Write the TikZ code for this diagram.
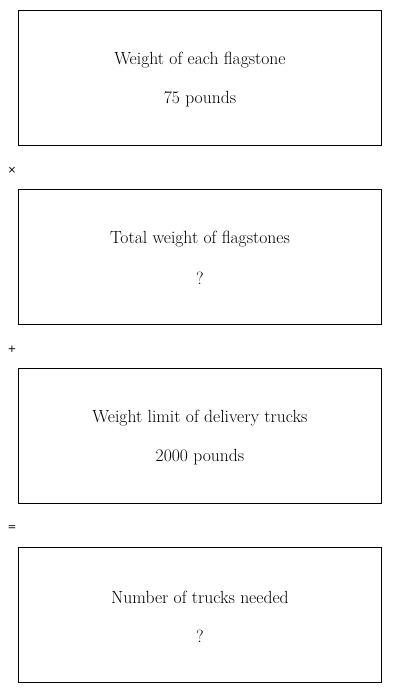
\documentclass[tikz,border=0pt]{standalone}
\usepackage{fontspec}
\newfontfamily\opfont{DejaVu Sans}
\begin{document}
\begin{tikzpicture}[x=1pt,y=-1pt,
  stepbox/.style={draw=black,line width=0.9pt,minimum width=363pt,minimum height=135pt,inner sep=0pt,anchor=north west},
  label/.style={font=\fontsize{17.6}{20}\selectfont,inner sep=0pt},
  oper/.style={font=\opfont\fontsize{10.5}{12}\selectfont,inner sep=0pt}]
\useasboundingbox (0,0) rectangle (400,693);
\node[stepbox] (b1) at (18,10) {};
\node[stepbox] (b2) at (18,189) {};
\node[stepbox] (b3) at (18,368) {};
\node[stepbox] (b4) at (18,547) {};
\foreach \b/\t/\v in {b1/Weight of each flagstone/75 pounds,
                       b2/Total weight of flagstones/?,
                       b3/Weight limit of delivery trucks/2000 pounds,
                       b4/Number of trucks needed/?}{
  \node[label] (\b t) at ([yshift=17.5pt]\b.center) {\t};
  \node[label] (\b v) at ([yshift=-21pt]\b.center) {\v};
}
\node[oper] (o1) at (12,170) {×};
\node[oper] (o2) at (12,349) {+};
\node[oper] (o3) at (12,528) {=};
\end{tikzpicture}
\end{document}
